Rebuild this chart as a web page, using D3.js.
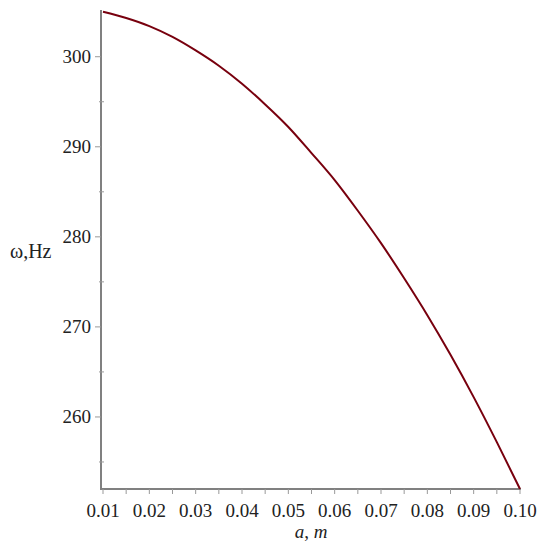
<!DOCTYPE html>
<html lang="en">
<head>
    <meta charset="UTF-8">
    <title>omega vs a</title>
    <script src="https://d3js.org/d3.v7.min.js"></script>
    <style>
        body { margin: 0; background: #fff; }
        .tick-label {
            font-family: "Liberation Serif", "Times New Roman", serif;
            font-size: 19px;
            fill: #222;
        }
        .axis-line {
            stroke: #808080;
            stroke-width: 2px;
        }
        .tick {
            stroke: #999;
            stroke-width: 1px;
        }
        .curve {
            fill: none;
            stroke: #78000e;
            stroke-width: 2px;
        }
    </style>
</head>
<body>

<svg width="544" height="550"></svg>

<script>
    // a, m
    const aValues = [0.010, 0.015, 0.020, 0.025, 0.030, 0.035, 0.040, 0.045, 0.050, 0.055,
                     0.060, 0.065, 0.070, 0.075, 0.080, 0.085, 0.090, 0.095, 0.100];
    // omega, Hz
    const omegaValues = [305.0, 304.3, 303.4, 302.2, 300.7, 299.0, 297.0, 294.7, 292.2, 289.3,
                         286.3, 282.9, 279.3, 275.4, 271.3, 266.9, 262.2, 257.2, 252.0];

    const xTicks = [0.01, 0.02, 0.03, 0.04, 0.05, 0.06, 0.07, 0.08, 0.09, 0.10];
    const xMinorTicks = [0.015, 0.025, 0.035, 0.045, 0.055, 0.065, 0.075, 0.085, 0.095];
    const yTicks = [260, 270, 280, 290, 300];
    const yMinorTicks = [255, 265, 275, 285, 295];

    const svg = d3.select("svg");

    const x = d3.scaleLinear().domain([0.01, 0.10]).range([103, 520]);
    const y = d3.scaleLinear().domain([252, 305]).range([489, 11.7]);

    const data = aValues.map((a, i) => ({a: a, w: omegaValues[i]}));

    // axis lines
    svg.append("line").attr("class", "axis-line")
        .attr("x1", 101).attr("x2", 101)
        .attr("y1", 10).attr("y2", 490);
    svg.append("line").attr("class", "axis-line")
        .attr("x1", 100).attr("x2", 521)
        .attr("y1", 489).attr("y2", 489);

    // y ticks
    svg.append("g").selectAll("line")
        .data(yTicks)
        .enter().append("line")
        .attr("class", "tick")
        .attr("x1", 95).attr("x2", 101)
        .attr("y1", d => y(d)).attr("y2", d => y(d));
    svg.append("g").selectAll("line")
        .data(yMinorTicks)
        .enter().append("line")
        .attr("class", "tick")
        .attr("x1", 99).attr("x2", 104)
        .attr("y1", d => y(d)).attr("y2", d => y(d));
    svg.append("g").selectAll("text")
        .data(yTicks)
        .enter().append("text")
        .attr("class", "tick-label")
        .attr("x", 91)
        .attr("y", d => y(d) + 6.5)
        .attr("text-anchor", "end")
        .text(d => d);

    // x ticks
    svg.append("g").selectAll("line")
        .data(xTicks.concat(xMinorTicks))
        .enter().append("line")
        .attr("class", "tick")
        .attr("x1", d => x(d)).attr("x2", d => x(d))
        .attr("y1", 489).attr("y2", 494);
    svg.append("g").selectAll("text")
        .data(xTicks)
        .enter().append("text")
        .attr("class", "tick-label")
        .attr("x", d => x(d))
        .attr("y", 517)
        .attr("text-anchor", "middle")
        .text(d => d.toFixed(2));

    // axis titles
    svg.append("text")
        .attr("class", "tick-label")
        .attr("x", 10)
        .attr("y", 258)
        .style("font-size", "20px")
        .text("ω,Hz");

    const xt = svg.append("text")
        .attr("class", "tick-label")
        .attr("x", 311)
        .attr("y", 538)
        .attr("text-anchor", "middle")
        .style("font-style", "italic");
    xt.append("tspan").text("a");
    xt.append("tspan").style("font-style", "normal").text(", ");
    xt.append("tspan").text("m");

    // curve
    const line = d3.line()
        .x(d => x(d.a))
        .y(d => y(d.w))
        .curve(d3.curveMonotoneX);

    svg.append("path")
        .datum(data)
        .attr("class", "curve")
        .attr("d", line);
</script>

</body>
</html>
